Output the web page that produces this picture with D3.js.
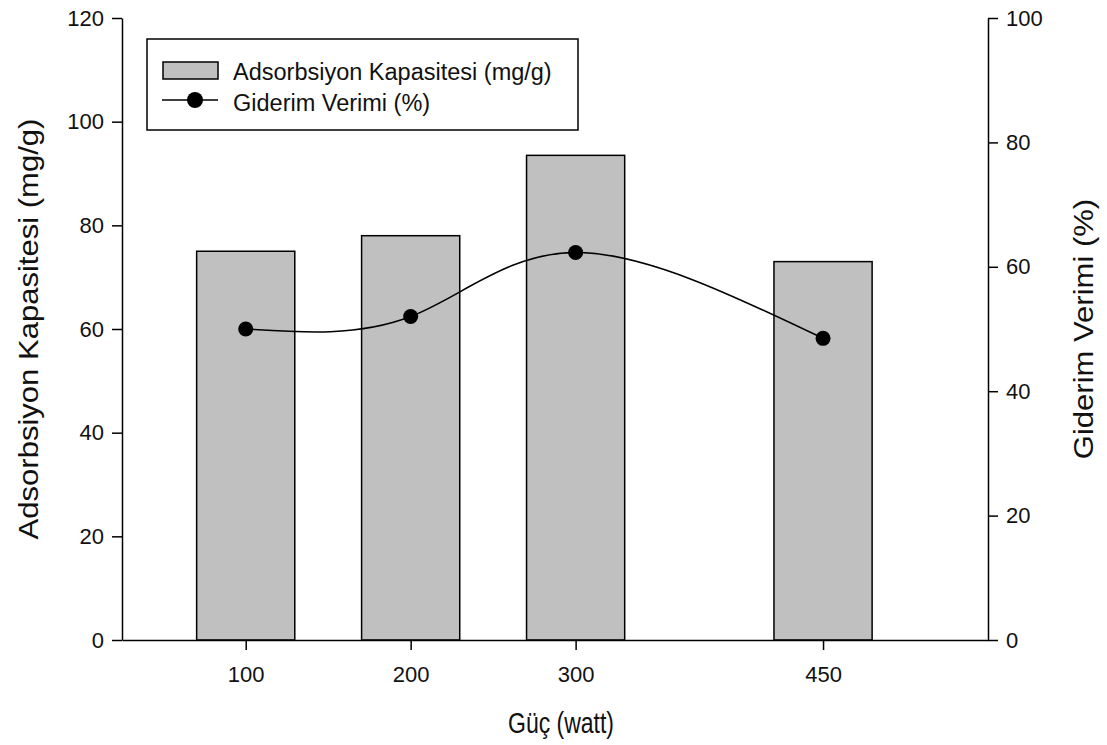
<!DOCTYPE html>
<html>
<head>
<meta charset="utf-8">
<script src="https://cdn.jsdelivr.net/npm/d3@7"></script>
<style>
  body { margin: 0; background: #fff; }
  text { font-family: "Liberation Sans", Arial, sans-serif; fill: #111; }
  .axis path, .axis line { stroke: #000; stroke-width: 1.5; }
</style>
</head>
<body>
<svg id="chart" width="1107" height="745"></svg>
<script>
// ======== Data ========
var power = [100, 200, 300, 450];
var capacity = [75, 78, 93.5, 73];          // mg/g, left axis
var efficiency = [50, 52, 62.3, 48.5];      // %, right axis
var leftTicks = [0, 20, 40, 60, 80, 100, 120];
var rightTicks = [0, 20, 40, 60, 80, 100];

var svg = d3.select('#chart');
var m = {left: 122, right: 988, top: 18, bottom: 640};

var x = d3.scaleLinear().domain([25, 550]).range([m.left, m.right]);
var yL = d3.scaleLinear().domain([0, 120]).range([m.bottom, m.top]);
var yR = d3.scaleLinear().domain([0, 100]).range([m.bottom, m.top]);
var barW = 59.5;

var data = power.map(function (p, i) {
    return {p: p, cap: capacity[i], eff: efficiency[i]};
});

// ======== Bars ========
svg.append('g').selectAll('rect')
    .data(data)
    .enter().append('rect')
    .attr('x', function (d) { return x(d.p - barW / 2); })
    .attr('width', x(barW) - x(0))
    .attr('y', function (d) { return yL(d.cap); })
    .attr('height', function (d) { return yL(0) - yL(d.cap); })
    .attr('fill', '#c0c0c0')
    .attr('stroke', '#000')
    .attr('stroke-width', 1.5);

// ======== Axes ========
svg.append('g').attr('class', 'axis')
    .attr('transform', 'translate(0,' + m.bottom + ')')
    .call(d3.axisBottom(x).tickValues(power).tickSize(10).tickSizeOuter(0).tickPadding(16));
svg.append('g').attr('class', 'axis')
    .attr('transform', 'translate(' + m.left + ',0)')
    .call(d3.axisLeft(yL).tickValues(leftTicks).tickSize(10).tickSizeOuter(0).tickPadding(8));
svg.append('g').attr('class', 'axis')
    .attr('transform', 'translate(' + m.right + ',0)')
    .call(d3.axisRight(yR).tickValues(rightTicks).tickSize(10).tickSizeOuter(0).tickPadding(8));
svg.selectAll('.axis text')
    .style('font-size', '22px')
    .style('font-family', '"Liberation Sans", Arial, sans-serif')
    .attr('fill', '#111');

// ======== Line + markers ========
var line = d3.line()
    .x(function (d) { return x(d.p); })
    .y(function (d) { return yR(d.eff); })
    .curve(d3.curveNatural);
svg.append('path')
    .datum(data)
    .attr('d', line)
    .attr('fill', 'none')
    .attr('stroke', '#000')
    .attr('stroke-width', 1.6);
svg.append('g').selectAll('circle')
    .data(data)
    .enter().append('circle')
    .attr('cx', function (d) { return x(d.p); })
    .attr('cy', function (d) { return yR(d.eff); })
    .attr('r', 7.5)
    .attr('fill', '#000');

// ======== Axis titles ========
var midY = (m.top + m.bottom) / 2;
svg.append('text')
    .attr('transform', 'translate(38,' + midY + ') rotate(-90) scale(1.15,1)')
    .attr('text-anchor', 'middle')
    .style('font-size', '27px')
    .text('Adsorbsiyon Kapasitesi (mg/g)');
svg.append('text')
    .attr('transform', 'translate(1093,' + midY + ') rotate(-90) scale(1.15,1)')
    .attr('text-anchor', 'middle')
    .style('font-size', '27px')
    .text('Giderim Verimi (%)');
svg.append('text')
    .attr('transform', 'translate(561,733) scale(1,1.25)')
    .attr('text-anchor', 'middle')
    .style('font-size', '23px')
    .text('Güç (watt)');

// ======== Legend ========
var lg = svg.append('g');
lg.append('rect')
    .attr('x', 147).attr('y', 39).attr('width', 431).attr('height', 91)
    .attr('fill', '#fff').attr('stroke', '#000').attr('stroke-width', 1.5);
lg.append('rect')
    .attr('x', 163).attr('y', 62).attr('width', 55).attr('height', 17)
    .attr('fill', '#c0c0c0').attr('stroke', '#000').attr('stroke-width', 1.5);
lg.append('line')
    .attr('x1', 162).attr('x2', 218).attr('y1', 100).attr('y2', 100)
    .attr('stroke', '#000').attr('stroke-width', 1.6);
lg.append('circle').attr('cx', 195).attr('cy', 100).attr('r', 8).attr('fill', '#000');
lg.append('text').attr('x', 233).attr('y', 80).style('font-size', '23.5px')
    .text('Adsorbsiyon Kapasitesi (mg/g)');
lg.append('text').attr('x', 233).attr('y', 111).style('font-size', '23.5px')
    .text('Giderim Verimi (%)');
</script>
</body>
</html>
